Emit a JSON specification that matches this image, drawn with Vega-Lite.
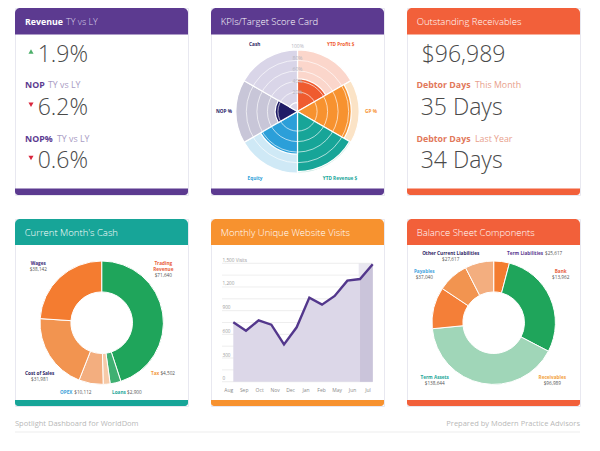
{"$schema":"https://vega.github.io/schema/vega-lite/v6.json","padding":{"left":14,"top":7,"right":0,"bottom":0},"background":"white","spacing":6,"resolve":{"scale":{"color":"independent"}},"config":{"axis":{"disable":true},"legend":{"disable":true},"view":{"stroke":null},"style":{"hd":{"font":"Open Sans","fontSize":9.5,"fontWeight":300,"align":"left","baseline":"alphabetic"},"hdb":{"font":"Open Sans","fontSize":8.8,"fontWeight":700,"align":"left","baseline":"alphabetic"},"big":{"font":"Open Sans","fontSize":23,"fontWeight":300,"align":"left","baseline":"alphabetic"},"sub":{"font":"Open Sans","fontSize":8.8,"fontWeight":700,"align":"left","baseline":"alphabetic"},"subl":{"font":"Open Sans","fontSize":8.8,"fontWeight":400,"align":"left","baseline":"alphabetic"},"lab":{"font":"Open Sans","fontSize":4.7,"fontWeight":700,"align":"center","baseline":"alphabetic"},"val":{"font":"Open Sans","fontSize":4.7,"align":"center","baseline":"alphabetic"},"foot":{"font":"Open Sans","fontSize":7.5,"baseline":"alphabetic"}}},"vconcat":[{"vconcat":[{"hconcat":[{"width":173,"height":187,"view":{"stroke":"#e8e8f0"},"data":{"values":[{"card":"Revenue"}]},"layer":[{"mark":{"type":"rect","fill":"#5c3a90","cornerRadiusTopLeft":5,"cornerRadiusTopRight":5},"encoding":{"x":{"datum":0,"scale":{"domain":[0,173],"nice":false}},"x2":{"datum":173},"y":{"datum":0,"scale":{"domain":[187,0],"nice":false}},"y2":{"datum":26.5}}},{"mark":{"type":"rect","fill":"#5c3a90","cornerRadiusBottomLeft":4,"cornerRadiusBottomRight":4},"encoding":{"x":{"datum":0},"x2":{"datum":173},"y":{"datum":180.5},"y2":{"datum":187}}},{"mark":{"type":"text","style":"hdb","fill":"white"},"encoding":{"text":{"field":"card"},"x":{"datum":10},"y":{"datum":17}}},{"data":{"values":[{"t":"TY vs LY"}]},"mark":{"type":"text","style":"hd","fill":"#d8cfe8","fontSize":9},"encoding":{"text":{"field":"t"},"x":{"datum":51},"y":{"datum":17}}},{"data":{"values":[{"t":"1.9%"}]},"mark":{"type":"text","style":"big","align":"right","fill":"#4a4a4a"},"encoding":{"text":{"field":"t"},"x":{"datum":73},"y":{"datum":53.7}}},{"data":{"values":[{"k":"Revenue"}]},"mark":{"type":"point","shape":"triangle-up","filled":true,"fill":"#4caf6a","size":26,"opacity":1},"encoding":{"x":{"datum":16},"y":{"datum":43.5}}},{"data":{"values":[{"t":"NOP"}]},"mark":{"type":"text","style":"sub","fill":"#5c3a90"},"encoding":{"text":{"field":"t"},"x":{"datum":10},"y":{"datum":80}}},{"data":{"values":[{"t":"TY vs LY"}]},"mark":{"type":"text","style":"subl","fill":"#a99cc4"},"encoding":{"text":{"field":"t"},"x":{"datum":33},"y":{"datum":80}}},{"data":{"values":[{"t":"6.2%"}]},"mark":{"type":"text","style":"big","align":"right","fill":"#4a4a4a"},"encoding":{"text":{"field":"t"},"x":{"datum":73},"y":{"datum":107}}},{"data":{"values":[{"k":"NOP"}]},"mark":{"type":"point","shape":"triangle-down","filled":true,"fill":"#d9263d","size":26,"opacity":1},"encoding":{"x":{"datum":16},"y":{"datum":96.7}}},{"data":{"values":[{"t":"NOP%"}]},"mark":{"type":"text","style":"sub","fill":"#5c3a90"},"encoding":{"text":{"field":"t"},"x":{"datum":10},"y":{"datum":133.7}}},{"data":{"values":[{"t":"TY vs LY"}]},"mark":{"type":"text","style":"subl","fill":"#a99cc4"},"encoding":{"text":{"field":"t"},"x":{"datum":42},"y":{"datum":133.7}}},{"data":{"values":[{"t":"0.6%"}]},"mark":{"type":"text","style":"big","align":"right","fill":"#4a4a4a"},"encoding":{"text":{"field":"t"},"x":{"datum":73},"y":{"datum":160}}},{"data":{"values":[{"k":"NOP%"}]},"mark":{"type":"point","shape":"triangle-down","filled":true,"fill":"#d9263d","size":26,"opacity":1},"encoding":{"x":{"datum":16},"y":{"datum":150}}}]},{"width":173,"height":187,"view":{"stroke":"#e8e8f0"},"data":{"values":[{"card":"KPIs/Target Score Card"}]},"resolve":{"scale":{"color":"independent"}},"layer":[{"mark":{"type":"rect","fill":"#5c3a90","cornerRadiusTopLeft":5,"cornerRadiusTopRight":5},"encoding":{"x":{"datum":0,"scale":{"domain":[0,173],"nice":false}},"x2":{"datum":173},"y":{"datum":0,"scale":{"domain":[187,0],"nice":false}},"y2":{"datum":26.5}}},{"mark":{"type":"rect","fill":"#5c3a90","cornerRadiusBottomLeft":4,"cornerRadiusBottomRight":4},"encoding":{"x":{"datum":0},"x2":{"datum":173},"y":{"datum":180.5},"y2":{"datum":187}}},{"mark":{"type":"text","style":"hd","fill":"white"},"encoding":{"text":{"field":"card"},"x":{"datum":9.7},"y":{"datum":17}}},{"data":{"values":[{"kpi":"YTD Profit $","rank":1,"weight":1,"target":100,"score":45},{"kpi":"GP %","rank":2,"weight":1,"target":100,"score":85},{"kpi":"YTD Revenue $","rank":3,"weight":1,"target":100,"score":97},{"kpi":"Equity","rank":4,"weight":1,"target":100,"score":64},{"kpi":"NOP %","rank":5,"weight":1,"target":100,"score":25},{"kpi":"Cash","rank":6,"weight":1,"target":100,"score":0}]},"transform":[{"stack":"weight","groupby":[],"sort":[{"field":"rank","order":"ascending"}],"as":["a0","a1"]}],"resolve":{"scale":{"color":"independent"}},"layer":[{"mark":{"type":"arc","radius2":0,"stroke":"white","strokeWidth":1.2},"encoding":{"x":{"datum":86.5},"y":{"datum":103.5},"theta":{"field":"a0","type":"quantitative","scale":{"domain":[0,6]}},"theta2":{"field":"a1"},"radius":{"field":"target","type":"quantitative","scale":{"type":"linear","domain":[-17,100],"range":[0,61.7]}},"color":{"field":"kpi","type":"nominal","sort":null,"scale":{"domain":["YTD Profit $","GP %","YTD Revenue $","Equity","NOP %","Cash"],"range":["#fbd6cb","#fbe3c6","#cdeae4","#cfe9f6","#c8c6d8","#d9d5e8"]}}}},{"mark":{"type":"arc","radius2":0,"stroke":"white","strokeWidth":1.2},"encoding":{"x":{"datum":86.5},"y":{"datum":103.5},"theta":{"field":"a0","type":"quantitative","scale":{"domain":[0,6]}},"theta2":{"field":"a1"},"radius":{"field":"score","type":"quantitative","scale":{"type":"linear","domain":[-17,100],"range":[0,61.7]}},"color":{"field":"kpi","type":"nominal","sort":null,"scale":{"domain":["YTD Profit $","GP %","YTD Revenue $","Equity","NOP %","Cash"],"range":["#ef5b2f","#f7922f","#17a598","#2b9fd9","#1f1b66","#d9d5e8"]}}}}]},{"data":{"values":[{"pct":20}]},"mark":{"type":"arc","radius":19.6,"fill":null,"stroke":"white","strokeWidth":0.8,"strokeOpacity":0.8,"theta":0,"theta2":6.2832},"encoding":{"x":{"datum":86.5},"y":{"datum":103.5}}},{"data":{"values":[{"pct":40}]},"mark":{"type":"arc","radius":30.1,"fill":null,"stroke":"white","strokeWidth":0.8,"strokeOpacity":0.8,"theta":0,"theta2":6.2832},"encoding":{"x":{"datum":86.5},"y":{"datum":103.5}}},{"data":{"values":[{"pct":60}]},"mark":{"type":"arc","radius":40.6,"fill":null,"stroke":"white","strokeWidth":0.8,"strokeOpacity":0.8,"theta":0,"theta2":6.2832},"encoding":{"x":{"datum":86.5},"y":{"datum":103.5}}},{"data":{"values":[{"pct":80}]},"mark":{"type":"arc","radius":51.2,"fill":null,"stroke":"white","strokeWidth":0.8,"strokeOpacity":0.8,"theta":0,"theta2":6.2832},"encoding":{"x":{"datum":86.5},"y":{"datum":103.5}}},{"data":{"values":[{"t":"100%"}]},"mark":{"type":"text","style":"val","fontSize":5,"fill":"#b5b5c0"},"encoding":{"text":{"field":"t"},"x":{"datum":86.5},"y":{"datum":40.4}}},{"data":{"values":[{"t":"80%"}]},"mark":{"type":"text","style":"val","fontSize":5,"fill":"#b5b5c0"},"encoding":{"text":{"field":"t"},"x":{"datum":86.5},"y":{"datum":52}}},{"data":{"values":[{"t":"60%"}]},"mark":{"type":"text","style":"val","fontSize":5,"fill":"#b5b5c0"},"encoding":{"text":{"field":"t"},"x":{"datum":86.5},"y":{"datum":63}}},{"data":{"values":[{"t":"40%"}]},"mark":{"type":"text","style":"val","fontSize":5,"fill":"#b5b5c0"},"encoding":{"text":{"field":"t"},"x":{"datum":86.5},"y":{"datum":74.7}}},{"data":{"values":[{"t":"20%"}]},"mark":{"type":"text","style":"val","fontSize":5,"fill":"#b5b5c0"},"encoding":{"text":{"field":"t"},"x":{"datum":86.5},"y":{"datum":86.4}}},{"data":{"values":[{"t":"Cash"}]},"mark":{"type":"text","style":"lab","fill":"#2e2464"},"encoding":{"text":{"field":"t"},"x":{"datum":43.7},"y":{"datum":38}}},{"data":{"values":[{"t":"YTD Profit $"}]},"mark":{"type":"text","style":"lab","fill":"#ef5b2f"},"encoding":{"text":{"field":"t"},"x":{"datum":129.7},"y":{"datum":38}}},{"data":{"values":[{"t":"GP %"}]},"mark":{"type":"text","style":"lab","fill":"#f7922f"},"encoding":{"text":{"field":"t"},"x":{"datum":160},"y":{"datum":104.7}}},{"data":{"values":[{"t":"YTD Revenue $"}]},"mark":{"type":"text","style":"lab","fill":"#17a598"},"encoding":{"text":{"field":"t"},"x":{"datum":129},"y":{"datum":172}}},{"data":{"values":[{"t":"Equity"}]},"mark":{"type":"text","style":"lab","fill":"#2b9fd9"},"encoding":{"text":{"field":"t"},"x":{"datum":44},"y":{"datum":172}}},{"data":{"values":[{"t":"NOP %"}]},"mark":{"type":"text","style":"lab","fill":"#1f1b66"},"encoding":{"text":{"field":"t"},"x":{"datum":13},"y":{"datum":104.7}}}]},{"width":173,"height":187,"view":{"stroke":"#e8e8f0"},"data":{"values":[{"card":"Outstanding Receivables"}]},"layer":[{"mark":{"type":"rect","fill":"#f2603a","cornerRadiusTopLeft":5,"cornerRadiusTopRight":5},"encoding":{"x":{"datum":0,"scale":{"domain":[0,173],"nice":false}},"x2":{"datum":173},"y":{"datum":0,"scale":{"domain":[187,0],"nice":false}},"y2":{"datum":26.5}}},{"mark":{"type":"rect","fill":"#f2603a","cornerRadiusBottomLeft":4,"cornerRadiusBottomRight":4},"encoding":{"x":{"datum":0},"x2":{"datum":173},"y":{"datum":180.5},"y2":{"datum":187}}},{"mark":{"type":"text","style":"hd","fill":"white"},"encoding":{"text":{"field":"card"},"x":{"datum":9.7},"y":{"datum":17}}},{"data":{"values":[{"t":"$96,989"}]},"mark":{"type":"text","style":"big","fill":"#4a4a4a"},"encoding":{"text":{"field":"t"},"x":{"datum":14.7},"y":{"datum":53.7}}},{"data":{"values":[{"t":"Debtor Days"}]},"mark":{"type":"text","style":"sub","fill":"#e2785a"},"encoding":{"text":{"field":"t"},"x":{"datum":9.5},"y":{"datum":80}}},{"data":{"values":[{"t":"This Month"}]},"mark":{"type":"text","style":"subl","fill":"#e8a08c"},"encoding":{"text":{"field":"t"},"x":{"datum":68},"y":{"datum":80}}},{"data":{"values":[{"t":"35 Days"}]},"mark":{"type":"text","style":"big","fill":"#4a4a4a"},"encoding":{"text":{"field":"t"},"x":{"datum":13.7},"y":{"datum":107}}},{"data":{"values":[{"t":"Debtor Days"}]},"mark":{"type":"text","style":"sub","fill":"#e2785a"},"encoding":{"text":{"field":"t"},"x":{"datum":9.5},"y":{"datum":133.7}}},{"data":{"values":[{"t":"Last Year"}]},"mark":{"type":"text","style":"subl","fill":"#e8a08c"},"encoding":{"text":{"field":"t"},"x":{"datum":68},"y":{"datum":133.7}}},{"data":{"values":[{"t":"34 Days"}]},"mark":{"type":"text","style":"big","fill":"#4a4a4a"},"encoding":{"text":{"field":"t"},"x":{"datum":13.7},"y":{"datum":160}}}]}],"spacing":21,"resolve":{"scale":{"color":"independent"}}},{"hconcat":[{"width":173,"height":187,"view":{"stroke":"#e8e8f0"},"data":{"values":[{"card":"Current Month's Cash"}]},"layer":[{"mark":{"type":"rect","fill":"#17a598","cornerRadiusTopLeft":5,"cornerRadiusTopRight":5},"encoding":{"x":{"datum":0,"scale":{"domain":[0,173],"nice":false}},"x2":{"datum":173},"y":{"datum":0,"scale":{"domain":[187,0],"nice":false}},"y2":{"datum":26}}},{"mark":{"type":"rect","fill":"#17a598","cornerRadiusBottomLeft":4,"cornerRadiusBottomRight":4},"encoding":{"x":{"datum":0},"x2":{"datum":173},"y":{"datum":181},"y2":{"datum":187}}},{"mark":{"type":"text","style":"hd","fill":"white"},"encoding":{"text":{"field":"card"},"x":{"datum":9.7},"y":{"datum":17}}},{"data":{"values":[{"item":"Trading Revenue","rank":1,"value":71640},{"item":"Tax","rank":2,"value":4502},{"item":"Loans","rank":3,"value":2900},{"item":"OPEX","rank":4,"value":10112},{"item":"Cost of Sales","rank":5,"value":31981},{"item":"Wages","rank":6,"value":38142}]},"mark":{"type":"arc","radius":61.7,"radius2":30.8,"stroke":"white","strokeWidth":1},"encoding":{"x":{"datum":86.7},"y":{"datum":103.7},"theta":{"field":"value","type":"quantitative","stack":true},"order":{"field":"rank"},"color":{"field":"item","type":"nominal","sort":null,"scale":{"domain":["Trading Revenue","Tax","Loans","OPEX","Cost of Sales","Wages"],"range":["#1fa55b","#3fb072","#f6caa8","#f3ae7f","#f29450","#f47c30"]}}}},{"data":{"values":[{"t":"Wages"}]},"mark":{"type":"text","style":"lab","fill":"#3d2c7a"},"encoding":{"text":{"field":"t"},"x":{"datum":23.3},"y":{"datum":45.7}}},{"data":{"values":[{"t":"$38,142"}]},"mark":{"type":"text","style":"val","fill":"#555555"},"encoding":{"text":{"field":"t"},"x":{"datum":23.3},"y":{"datum":51.7}}},{"data":{"values":[{"t":"Trading"}]},"mark":{"type":"text","style":"lab","fill":"#e8603c"},"encoding":{"text":{"field":"t"},"x":{"datum":148.3},"y":{"datum":45.7}}},{"data":{"values":[{"t":"Revenue"}]},"mark":{"type":"text","style":"lab","fill":"#e8603c"},"encoding":{"text":{"field":"t"},"x":{"datum":148.3},"y":{"datum":52}}},{"data":{"values":[{"t":"$71,640"}]},"mark":{"type":"text","style":"val","fill":"#555555"},"encoding":{"text":{"field":"t"},"x":{"datum":148.3},"y":{"datum":58}}},{"data":{"values":[{"t":"Tax"}]},"mark":{"type":"text","style":"lab","fill":"#f39a3c","align":"left"},"encoding":{"text":{"field":"t"},"x":{"datum":136},"y":{"datum":156.3}}},{"data":{"values":[{"t":"$4,502"}]},"mark":{"type":"text","style":"val","fill":"#555555","align":"right"},"encoding":{"text":{"field":"t"},"x":{"datum":160},"y":{"datum":156.3}}},{"data":{"values":[{"t":"Cost of Sales"}]},"mark":{"type":"text","style":"lab","fill":"#2e1f66"},"encoding":{"text":{"field":"t"},"x":{"datum":24.7},"y":{"datum":156.3}}},{"data":{"values":[{"t":"$31,981"}]},"mark":{"type":"text","style":"val","fill":"#555555"},"encoding":{"text":{"field":"t"},"x":{"datum":24.7},"y":{"datum":162.3}}},{"data":{"values":[{"t":"OPEX"}]},"mark":{"type":"text","style":"lab","fill":"#3a9fd8","align":"left"},"encoding":{"text":{"field":"t"},"x":{"datum":45},"y":{"datum":174.7}}},{"data":{"values":[{"t":"$10,112"}]},"mark":{"type":"text","style":"val","fill":"#555555","align":"right"},"encoding":{"text":{"field":"t"},"x":{"datum":76.5},"y":{"datum":174.7}}},{"data":{"values":[{"t":"Loans"}]},"mark":{"type":"text","style":"lab","fill":"#1fa89a","align":"left"},"encoding":{"text":{"field":"t"},"x":{"datum":97},"y":{"datum":174.7}}},{"data":{"values":[{"t":"$2,900"}]},"mark":{"type":"text","style":"val","fill":"#555555","align":"right"},"encoding":{"text":{"field":"t"},"x":{"datum":126.7},"y":{"datum":174.7}}}]},{"width":173,"height":187,"view":{"stroke":"#e8e8f0"},"resolve":{"scale":{"x":"independent","y":"independent"}},"layer":[{"data":{"values":[{"card":"Monthly Unique Website Visits"}]},"layer":[{"mark":{"type":"rect","fill":"#f7922f","cornerRadiusTopLeft":5,"cornerRadiusTopRight":5},"encoding":{"x":{"datum":0,"scale":{"domain":[0,173],"nice":false}},"x2":{"datum":173},"y":{"datum":0,"scale":{"domain":[187,0],"nice":false}},"y2":{"datum":26}}},{"mark":{"type":"rect","fill":"#f7922f","cornerRadiusBottomLeft":4,"cornerRadiusBottomRight":4},"encoding":{"x":{"datum":0},"x2":{"datum":173},"y":{"datum":181},"y2":{"datum":187}}},{"mark":{"type":"text","style":"hd","fill":"white"},"encoding":{"text":{"field":"card"},"x":{"datum":9.7},"y":{"datum":17}}},{"mark":{"type":"rect","fill":"#e9e7f0"},"encoding":{"x":{"datum":147.7},"x2":{"datum":161.7},"y":{"datum":44.3},"y2":{"datum":162.7}}}]},{"data":{"values":[{"v":0},{"v":150},{"v":300},{"v":450},{"v":600},{"v":750},{"v":900},{"v":1050},{"v":1200},{"v":1350},{"v":1500}]},"mark":{"type":"rule","stroke":"#e6e6e6","strokeWidth":0.7},"encoding":{"x":{"datum":11,"scale":{"domain":[0,173],"nice":false}},"x2":{"datum":161.7},"y":{"field":"v","type":"quantitative","scale":{"domain":[0,1500],"range":[162.7,44.3]},"axis":{"disable":false,"orient":"left","title":null,"domain":false,"ticks":false,"grid":false,"values":[0,300,600,900,1200,1500],"labelAlign":"left","labelBaseline":"bottom","labelPadding":-11,"labelOffset":-1,"labelFont":"Open Sans","labelFontSize":4.7,"labelColor":"#9a9a9a","labelExpr":"datum.value == 1500 ? '1,500 Visits' : format(datum.value, ',')"}}}},{"encoding":{"x":{"field":"month","type":"ordinal","sort":null,"scale":{"type":"point","padding":0,"domain":["Aug","Sep","Oct","Nov","Dec","Jan","Feb","Mar","Apr","May","Jun","Jul"],"range":[22.3,161.7]}},"y":{"field":"visits","type":"quantitative","scale":{"domain":[0,1500],"range":[162.7,44.3]}}},"data":{"values":[{"month":"Aug","visits":752},{"month":"Sep","visits":646},{"month":"Oct","visits":777},{"month":"Nov","visits":722},{"month":"Dec","visits":473},{"month":"Jan","visits":689},{"month":"Feb","visits":1065},{"month":"Mar","visits":976},{"month":"Apr","visits":1086},{"month":"May","visits":1280},{"month":"Jun","visits":1301},{"month":"Jul","visits":1487}]},"layer":[{"mark":{"type":"area","fill":"#dcd7e8"}},{"transform":[{"filter":"datum.month == 'Jun' || datum.month == 'Jul'"}],"mark":{"type":"area","fill":"#cac4da"}},{"mark":{"type":"line","stroke":"#53378c","strokeWidth":2.4,"strokeJoin":"miter"}}]},{"data":{"values":[{"label":"Aug"},{"label":"Sep"},{"label":"Oct"},{"label":"Nov"},{"label":"Dec"},{"label":"Jan"},{"label":"Feb"},{"label":"May"},{"label":"Jun"},{"label":"Jul"}]},"mark":{"type":"text","font":"Open Sans","fontSize":5,"fill":"#8a8a8a","baseline":"alphabetic"},"encoding":{"text":{"field":"label"},"x":{"field":"label","type":"ordinal","sort":null,"scale":{"type":"point","padding":0,"range":[17.7,157]}},"y":{"datum":172.7,"scale":{"domain":[187,0],"nice":false}}}}]},{"width":173,"height":187,"view":{"stroke":"#e8e8f0"},"data":{"values":[{"card":"Balance Sheet Components"}]},"layer":[{"mark":{"type":"rect","fill":"#f2603a","cornerRadiusTopLeft":5,"cornerRadiusTopRight":5},"encoding":{"x":{"datum":0,"scale":{"domain":[0,173],"nice":false}},"x2":{"datum":173},"y":{"datum":0,"scale":{"domain":[187,0],"nice":false}},"y2":{"datum":26}}},{"mark":{"type":"rect","fill":"#f2603a","cornerRadiusBottomLeft":4,"cornerRadiusBottomRight":4},"encoding":{"x":{"datum":0},"x2":{"datum":173},"y":{"datum":181},"y2":{"datum":187}}},{"mark":{"type":"text","style":"hd","fill":"white"},"encoding":{"text":{"field":"card"},"x":{"datum":9.7},"y":{"datum":17}}},{"data":{"values":[{"item":"Bank","rank":1,"value":13962},{"item":"Receivables","rank":2,"value":96989},{"item":"Term Assets","rank":3,"value":138644},{"item":"Payables","rank":4,"value":37040},{"item":"Other Current Liabilities","rank":5,"value":27617},{"item":"Term Liabilities","rank":6,"value":25617}]},"mark":{"type":"arc","radius":61.7,"radius2":30.8,"stroke":"white","strokeWidth":1},"encoding":{"x":{"datum":86.7},"y":{"datum":103.7},"theta":{"field":"value","type":"quantitative","stack":true},"order":{"field":"rank"},"color":{"field":"item","type":"nominal","sort":null,"scale":{"domain":["Bank","Receivables","Term Assets","Payables","Other Current Liabilities","Term Liabilities"],"range":["#f47c30","#1fa55b","#a0d6b8","#f47f38","#f29450","#f3ae7f"]}}}},{"data":{"values":[{"t":"Other Current Liabilities"}]},"mark":{"type":"text","style":"lab","fill":"#2e2464"},"encoding":{"text":{"field":"t"},"x":{"datum":43.7},"y":{"datum":36}}},{"data":{"values":[{"t":"$27,617"}]},"mark":{"type":"text","style":"val","fill":"#555555"},"encoding":{"text":{"field":"t"},"x":{"datum":43.7},"y":{"datum":42}}},{"data":{"values":[{"t":"Term Liabilities"}]},"mark":{"type":"text","style":"lab","fill":"#5c3a90","align":"left"},"encoding":{"text":{"field":"t"},"x":{"datum":100},"y":{"datum":36}}},{"data":{"values":[{"t":"$25,617"}]},"mark":{"type":"text","style":"val","fill":"#555555","align":"right"},"encoding":{"text":{"field":"t"},"x":{"datum":155.3},"y":{"datum":36}}},{"data":{"values":[{"t":"Payables"}]},"mark":{"type":"text","style":"lab","fill":"#45a5e0"},"encoding":{"text":{"field":"t"},"x":{"datum":17.3},"y":{"datum":54}}},{"data":{"values":[{"t":"$37,040"}]},"mark":{"type":"text","style":"val","fill":"#555555"},"encoding":{"text":{"field":"t"},"x":{"datum":17.3},"y":{"datum":60}}},{"data":{"values":[{"t":"Bank"}]},"mark":{"type":"text","style":"lab","fill":"#e8603c"},"encoding":{"text":{"field":"t"},"x":{"datum":153.7},"y":{"datum":54}}},{"data":{"values":[{"t":"$13,962"}]},"mark":{"type":"text","style":"val","fill":"#555555"},"encoding":{"text":{"field":"t"},"x":{"datum":153.7},"y":{"datum":60}}},{"data":{"values":[{"t":"Term Assets"}]},"mark":{"type":"text","style":"lab","fill":"#1fa89a"},"encoding":{"text":{"field":"t"},"x":{"datum":27.7},"y":{"datum":160}}},{"data":{"values":[{"t":"$138,644"}]},"mark":{"type":"text","style":"val","fill":"#555555"},"encoding":{"text":{"field":"t"},"x":{"datum":27.7},"y":{"datum":166}}},{"data":{"values":[{"t":"Receivables"}]},"mark":{"type":"text","style":"lab","fill":"#f3a13c"},"encoding":{"text":{"field":"t"},"x":{"datum":145.3},"y":{"datum":160}}},{"data":{"values":[{"t":"$96,989"}]},"mark":{"type":"text","style":"val","fill":"#555555"},"encoding":{"text":{"field":"t"},"x":{"datum":145.3},"y":{"datum":166}}}]}],"spacing":21,"resolve":{"scale":{"color":"independent"}}}],"spacing":22,"resolve":{"scale":{"color":"independent"}}},{"width":565,"height":22,"layer":[{"data":{"values":[{"t":"Spotlight Dashboard for WorldDom"}]},"mark":{"type":"text","style":"foot","align":"left","fill":"#b8b8b8"},"encoding":{"text":{"field":"t"},"x":{"datum":0,"scale":{"domain":[0,565],"nice":false}},"y":{"datum":12.7,"scale":{"domain":[22,0],"nice":false}}}},{"data":{"values":[{"t":"Prepared by Modern Practice Advisors"}]},"mark":{"type":"text","style":"foot","align":"right","fill":"#b8b8b8"},"encoding":{"text":{"field":"t"},"x":{"datum":565},"y":{"datum":12.7}}},{"data":{"values":[{"t":"rule"}]},"mark":{"type":"rule","stroke":"#e8e8e8","strokeWidth":0.8},"encoding":{"x":{"datum":0},"x2":{"datum":565},"y":{"datum":19}}}]}]}
